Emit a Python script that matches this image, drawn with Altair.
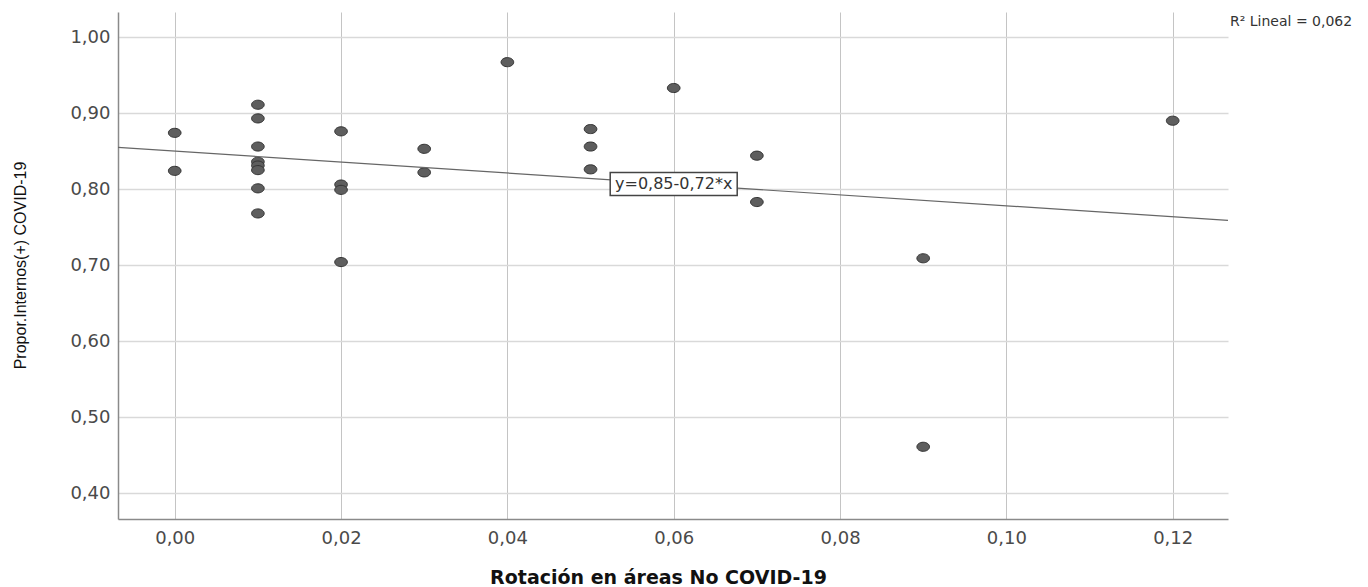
import altair as alt
import pandas as pd

# Data
rotacion = [0.00, 0.00,
            0.01, 0.01, 0.01, 0.01, 0.01, 0.01, 0.01, 0.01,
            0.02, 0.02, 0.02, 0.02,
            0.03, 0.03,
            0.04,
            0.05, 0.05, 0.05,
            0.06,
            0.07, 0.07,
            0.09, 0.09,
            0.12]
propor = [0.874, 0.824,
          0.911, 0.893, 0.856, 0.836, 0.831, 0.825, 0.801, 0.768,
          0.876, 0.806, 0.799, 0.704,
          0.853, 0.822,
          0.967,
          0.879, 0.856, 0.826,
          0.933,
          0.844, 0.783,
          0.709, 0.461,
          0.890]

intercept = 0.85
slope = -0.72
eq_label = "y=0,85-0,72*x"
r2_label = "R² Lineal = 0,062"
label_x = 0.06

x_domain = [-0.00682, 0.12665]
y_domain = [0.366, 1.033]

pts = pd.DataFrame({"x": rotacion, "y": propor})
fit = pd.DataFrame({"x": x_domain})
lab = pd.DataFrame({"x": [label_x], "t": [eq_label]})
r2 = pd.DataFrame({"t": [r2_label]})

xscale = alt.Scale(domain=x_domain, nice=False, zero=False)
yscale = alt.Scale(domain=y_domain, nice=False, zero=False)

fmt = "replace(format(datum.value, '.2f'), '.', ',')"

xaxis = alt.Axis(
    values=[0.0, 0.02, 0.04, 0.06, 0.08, 0.10, 0.12],
    labelExpr=fmt, ticks=False, labelPadding=10,
    labelFont="DejaVu Sans", labelFontSize=18, labelColor="#4a4a4a",
    domainColor="#8a8a8a", domainWidth=1.5,
    gridColor="#c4c4c4", gridWidth=1,
    title="Rotación en áreas No COVID-19",
    titleFont="DejaVu Sans", titleFontSize=19, titleFontWeight="bold",
    titleColor="#111111", titleX=540, titleY=58, titleBaseline="middle",
    titleAlign="center",
)
yaxis = alt.Axis(
    values=[0.4, 0.5, 0.6, 0.7, 0.8, 0.9, 1.0],
    labelExpr=fmt, ticks=False, labelPadding=8,
    labelFont="DejaVu Sans", labelFontSize=18, labelColor="#4a4a4a",
    domainColor="#8a8a8a", domainWidth=1.5,
    gridColor="#d9d9d9", gridWidth=1.5,
    title="Propor.Internos(+) COVID-19",
    titleFont="Liberation Sans", titleFontSize=16,
    titleFontWeight="normal", titleColor="#111111",
    titleAngle=-90, titleX=-98, titleY=253, titleAlign="center",
    titleBaseline="middle",
)

points = alt.Chart(pts).mark_point(
    shape="M -1 0 A 1 0.72 0 1 0 1 0 A 1 0.72 0 1 0 -1 0 Z",
    filled=True, size=160, fill="#5e5e5e", stroke="#333333", strokeWidth=1,
    opacity=1,
).encode(
    x=alt.X("x:Q", scale=xscale, axis=xaxis),
    y=alt.Y("y:Q", scale=yscale, axis=yaxis),
)

line = alt.Chart(fit).transform_calculate(
    y=f"{intercept} + ({slope}) * datum.x"
).mark_line(color="#666666", strokeWidth=1.2, clip=True).encode(
    x=alt.X("x:Q", scale=xscale),
    y=alt.Y("y:Q", scale=yscale),
)

box = alt.Chart(lab).transform_calculate(
    y=f"{intercept} + ({slope}) * datum.x"
).mark_point(
    shape="M -1 -0.181 L 1 -0.181 L 1 0.181 L -1 0.181 Z",
    size=16129, filled=True, fill="white", stroke="#444444",
    strokeWidth=1.5, opacity=1,
).encode(
    x=alt.X("x:Q", scale=xscale),
    y=alt.Y("y:Q", scale=yscale),
)

text = alt.Chart(lab).transform_calculate(
    y=f"{intercept} + ({slope}) * datum.x"
).mark_text(
    font="DejaVu Sans", fontSize=16, color="#333333",
    align="center", baseline="middle",
).encode(
    x=alt.X("x:Q", scale=xscale),
    y=alt.Y("y:Q", scale=yscale),
    text="t:N",
)

r2text = alt.Chart(r2).mark_text(
    font="DejaVu Sans", fontSize=14, color="#333333",
    align="left", baseline="middle",
).encode(
    x=alt.value(1112),
    y=alt.value(10),
    text="t:N",
)

chart = alt.layer(points, line, box, text, r2text).properties(
    width=1110, height=507,
    autosize=alt.AutoSizeParams(type="none"),
    padding={"left": 118, "top": 12, "right": 140, "bottom": 68},
    background="white",
).configure_view(stroke=None)

chart.save("out.html", embed_options={"renderer": "svg", "actions": False})
